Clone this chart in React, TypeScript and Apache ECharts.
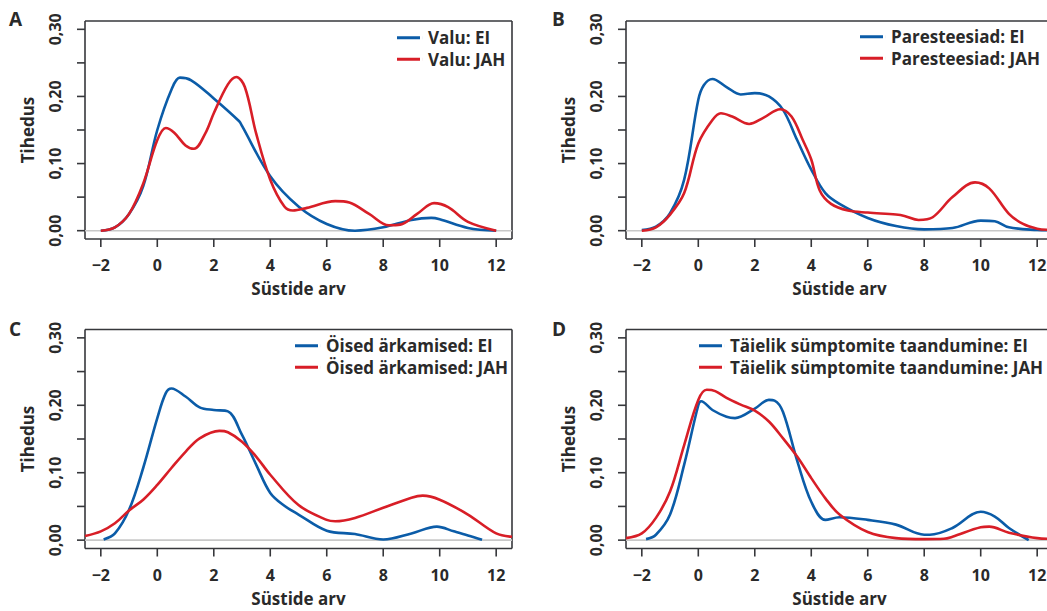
import React, { useEffect, useRef } from "react";
import * as echarts from "echarts";

// ---- data ----
const xTicks = [-2, 0, 2, 4, 6, 8, 10, 12];
const yTicks = [0, 0.05, 0.1, 0.15, 0.2, 0.25, 0.3];
const yLabels = [0, 0.1, 0.2, 0.3];

// Panel A: Valu
const aEiX = [-2, -1.5, -1, -0.5, 0, 0.5, 0.8, 1.2, 2, 2.9, 3, 4, 5, 6, 7, 8, 9, 9.7, 10, 11, 12];
const aEiY = [0, 0.005, 0.025, 0.066, 0.15, 0.21, 0.228, 0.224, 0.197, 0.163, 0.156, 0.081, 0.036, 0.01, 0.0, 0.005, 0.016, 0.019, 0.017, 0.004, 0];
const aJahX = [-2, -1.5, -1, -0.5, 0, 0.3, 0.6, 1, 1.3, 1.7, 2, 2.5, 2.8, 3.1, 3.5, 4, 4.5, 4.8, 5.3, 6.3, 6.8, 7.5, 8.2, 8.6, 9.2, 9.8, 10.3, 11, 12];
const aJahY = [0, 0.005, 0.025, 0.07, 0.135, 0.153, 0.146, 0.127, 0.122, 0.145, 0.175, 0.218, 0.229, 0.214, 0.145, 0.076, 0.036, 0.03, 0.034, 0.044, 0.042, 0.025, 0.008, 0.009, 0.025, 0.041, 0.035, 0.013, 0];

// Panel B: Paresteesiad
const bEiX = [-2, -1.5, -1, -0.5, 0, 0.2, 0.5, 1, 1.5, 2, 2.5, 3, 3.5, 4, 4.5, 5, 6, 7, 8, 9, 10, 10.5, 11, 12, 12.5];
const bEiY = [0.001, 0.006, 0.026, 0.076, 0.195, 0.217, 0.226, 0.214, 0.203, 0.205, 0.2, 0.18, 0.135, 0.091, 0.056, 0.04, 0.019, 0.007, 0.002, 0.004, 0.015, 0.014, 0.005, 0.001, 0.0005];
const bJahX = [-2, -1.5, -1, -0.5, 0, 0.5, 0.8, 1.2, 1.8, 2.3, 2.9, 3.3, 3.7, 4, 4.3, 4.7, 5.3, 6, 7, 7.3, 7.8, 8.3, 9, 9.8, 10.3, 11, 11.5, 12, 12.5];
const bJahY = [0, 0.005, 0.024, 0.056, 0.13, 0.165, 0.175, 0.17, 0.159, 0.168, 0.181, 0.17, 0.135, 0.106, 0.06, 0.04, 0.03, 0.027, 0.024, 0.022, 0.016, 0.02, 0.05, 0.072, 0.063, 0.025, 0.01, 0.003, 0.001];

// Panel C: Öised ärkamised
const cEiX = [-1.9, -1.5, -1, -0.5, 0, 0.3, 0.5, 1, 1.5, 2, 2.5, 3, 3.5, 4, 4.5, 5, 6, 7, 8, 9, 9.9, 10.5, 11, 11.5];
const cEiY = [0.001, 0.01, 0.045, 0.107, 0.181, 0.218, 0.225, 0.213, 0.197, 0.193, 0.191, 0.156, 0.112, 0.07, 0.051, 0.038, 0.014, 0.009, 0.001, 0.01, 0.02, 0.013, 0.007, 0.0005];
const cJahX = [-2.56, -2, -1.5, -1, -0.5, 0, 0.5, 1, 1.5, 2.2, 2.5, 3, 3.5, 4, 5, 6, 6.3, 7, 8, 9, 9.4, 10, 11, 12, 12.56];
const cJahY = [0.006, 0.013, 0.025, 0.044, 0.06, 0.082, 0.107, 0.131, 0.151, 0.162, 0.16, 0.146, 0.124, 0.097, 0.052, 0.03, 0.028, 0.033, 0.048, 0.063, 0.066, 0.06, 0.038, 0.01, 0.005];

// Panel D: Täielik sümptomite taandumine
const dEiX = [-1.85, -1.5, -1, -0.5, 0, 0.1, 0.5, 1, 1.3, 2, 2.5, 2.7, 3, 3.5, 4, 4.5, 5, 6, 7, 8, 8.2, 9, 10, 10.5, 11, 11.7];
const dEiY = [0.0015, 0.008, 0.038, 0.112, 0.2, 0.206, 0.193, 0.183, 0.181, 0.195, 0.208, 0.207, 0.19, 0.118, 0.057, 0.03, 0.034, 0.03, 0.023, 0.008, 0.008, 0.018, 0.042, 0.035, 0.018, 0];
const dJahX = [-2.56, -2, -1.5, -1, -0.5, 0, 0.3, 0.6, 1, 1.5, 2, 2.5, 3, 3.5, 4, 4.5, 5, 6, 7, 8, 8.7, 9, 10, 10.3, 11, 12, 12.56];
const dJahY = [0.003, 0.01, 0.033, 0.072, 0.141, 0.208, 0.223, 0.221, 0.211, 0.201, 0.192, 0.176, 0.151, 0.124, 0.092, 0.062, 0.038, 0.012, 0.003, 0.0015, 0.002, 0.005, 0.019, 0.02, 0.011, 0.003, 0.002];

const panelLetters = ["A", "B", "C", "D"];
const panelNames = ["Valu", "Paresteesiad", "Öised ärkamised", "Täielik sümptomite taandumine"];

// plotting region (R-style 4% extension of [-2, 12] and [0, 0.30])
const X_MIN = -2.56;
const X_MAX = 12.56;
const Y_MIN = -0.0124;
const Y_MAX = 0.3124;

const FONT = '"Open Sans", "Noto Sans", sans-serif';
const TXT = "#2a2a2a";
const BOX = "#36373b";
const BLUE = "#0b5ca8";
const RED = "#d81e27";
const ZERO = "#c8c8c8";
const TICK_LEN = 8;
const BOX_W = 427;
const PAD = 12; // grid extends this many px beyond the drawn frame
const FRAME_W = 1.6;

const pts = (xs: number[], ys: number[]) => xs.map((x, i) => [x, ys[i]]);

export default function App() {
  const ref = useRef<HTMLDivElement>(null);

  useEffect(() => {
    if (!ref.current) return;
    const chart = echarts.init(ref.current, undefined, { renderer: "svg" });

    const seriesData = [
      [pts(aEiX, aEiY), pts(aJahX, aJahY)],
      [pts(bEiX, bEiY), pts(bJahX, bJahY)],
      [pts(cEiX, cEiY), pts(cJahX, cJahY)],
      [pts(dEiX, dEiY), pts(dJahX, dJahY)],
    ];

    const layout = [
      { left: 85, top: 21, height: 218, legendLeft: 397, legendTop: 27.7, letterX: 9, letterY: 20 },
      { left: 626, top: 21, height: 218, legendLeft: 860, legendTop: 26.7, letterX: 552, letterY: 20 },
      { left: 85, top: 329.5, height: 219, legendLeft: 295, legendTop: 335.7, letterX: 9, letterY: 330 },
      { left: 626, top: 329.5, height: 219, legendLeft: 699, legendTop: 335.7, letterX: 552, letterY: 330 },
    ];

    const grid: any[] = [];
    const xAxis: any[] = [];
    const yAxis: any[] = [];
    const series: any[] = [];
    const legend: any[] = [];
    const graphic: any[] = [];

    const titleStyle = { fontSize: 17, fontWeight: "bold", color: TXT, fontFamily: FONT };
    const plainLine = (name: string, i: number, data: any[], color: string, width: number, z: number) => ({
      type: "line",
      name,
      xAxisIndex: i,
      yAxisIndex: i,
      data,
      clip: false,
      silent: true,
      smooth: false,
      connectNulls: false,
      showSymbol: false,
      symbol: "none",
      legendHoverLink: false,
      z,
      color,
      lineStyle: { color, width },
    });

    layout.forEach((L, i) => {
      const padX = (PAD * (X_MAX - X_MIN)) / BOX_W;
      const padY = (PAD * (Y_MAX - Y_MIN)) / L.height;
      const dx = (TICK_LEN * (X_MAX - X_MIN)) / BOX_W;
      const dy = (TICK_LEN * (Y_MAX - Y_MIN)) / L.height;

      grid.push({
        left: L.left - PAD,
        top: L.top - PAD,
        width: BOX_W + 2 * PAD,
        height: L.height + 2 * PAD,
      });
      xAxis.push({
        type: "value",
        gridIndex: i,
        position: "bottom",
        min: X_MIN - padX,
        max: X_MAX + padX,
        axisLine: { show: false, onZero: false },
        splitLine: { show: false },
        axisTick: { show: false },
        axisLabel: {
          customValues: xTicks,
          formatter: (v: number) => (v < 0 ? "\u2212" + Math.abs(v) : String(v)),
          margin: 18 - PAD,
          fontSize: 16,
          fontWeight: "bold",
          color: TXT,
          fontFamily: FONT,
        },
        name: "Süstide arv",
        nameLocation: "middle",
        nameGap: 41 - PAD,
        nameTextStyle: titleStyle,
      });
      yAxis.push({
        type: "value",
        gridIndex: i,
        position: "left",
        min: Y_MIN - padY,
        max: Y_MAX + padY,
        axisLine: { show: false, onZero: false },
        splitLine: { show: false },
        axisTick: { show: false },
        axisLabel: {
          customValues: yLabels,
          rotate: 90,
          formatter: (v: number) => v.toFixed(2).replace(".", ","),
          margin: 22 - PAD,
          fontSize: 16,
          fontWeight: "bold",
          color: TXT,
          fontFamily: FONT,
        },
        name: "Tihedus",
        nameLocation: "middle",
        nameGap: 49 - PAD,
        nameTextStyle: titleStyle,
      });

      const eiName = panelNames[i] + ": EI";
      const jahName = panelNames[i] + ": JAH";

      // frame: four separate sides so every segment is a simple two-point line
      const sides: any[][] = [
        [[X_MIN, Y_MIN], [X_MAX, Y_MIN]],
        [[X_MAX, Y_MIN], [X_MAX, Y_MAX]],
        [[X_MAX, Y_MAX], [X_MIN, Y_MAX]],
        [[X_MIN, Y_MAX], [X_MIN, Y_MIN]],
      ];
      sides.forEach((s, k) => series.push(plainLine("frame" + i + "_" + k, i, s, BOX, FRAME_W, 1)));
      xTicks.forEach((t, k) =>
        series.push(plainLine("xt" + i + "_" + k, i, [[t, Y_MIN], [t, Y_MIN - dy]], BOX, FRAME_W, 1))
      );
      yTicks.forEach((t, k) =>
        series.push(plainLine("yt" + i + "_" + k, i, [[X_MIN, t], [X_MIN - dx, t]], BOX, FRAME_W, 1))
      );

      series.push(plainLine("zero" + i, i, [[X_MIN, 0], [X_MAX, 0]], ZERO, 1.6, 1));

      series.push({
        type: "line",
        name: eiName,
        xAxisIndex: i,
        yAxisIndex: i,
        data: seriesData[i][0],
        smooth: 0.35,
        showSymbol: false,
        symbol: "none",
        z: 3,
        color: BLUE,
        lineStyle: { color: BLUE, width: 2.6 },
      });
      series.push({
        type: "line",
        name: jahName,
        xAxisIndex: i,
        yAxisIndex: i,
        data: seriesData[i][1],
        smooth: 0.35,
        showSymbol: false,
        symbol: "none",
        z: 4,
        color: RED,
        lineStyle: { color: RED, width: 2.6 },
      });
      legend.push({
        data: [eiName, jahName],
        orient: "vertical",
        left: L.legendLeft,
        top: L.legendTop,
        icon: "path://M0,0H23V3H0Z M25.95,0H26V3H25.95Z",
        itemWidth: 26,
        itemHeight: 3,
        itemGap: 1.6,
        selectedMode: false,
        padding: 0,
        textStyle: { fontSize: 17, fontWeight: "bold", color: TXT, fontFamily: FONT, lineHeight: 20 },
      });
      graphic.push({
        type: "text",
        left: L.letterX,
        top: L.letterY - 11,
        z: 50,
        style: { text: panelLetters[i], fontSize: 19, fontWeight: "bold", fill: TXT, fontFamily: FONT },
      });
    });

    chart.setOption({
      animation: false,
      backgroundColor: "#ffffff",
      grid,
      xAxis,
      yAxis,
      series,
      legend,
      graphic,
    });

    return () => chart.dispose();
  }, []);

  return (
    <div style={{ position: "fixed", left: 0, top: 0, width: 1047, height: 611, overflow: "hidden", background: "#fff" }}>
      <div ref={ref} style={{ width: 1070, height: 611 }} />
    </div>
  );
}
